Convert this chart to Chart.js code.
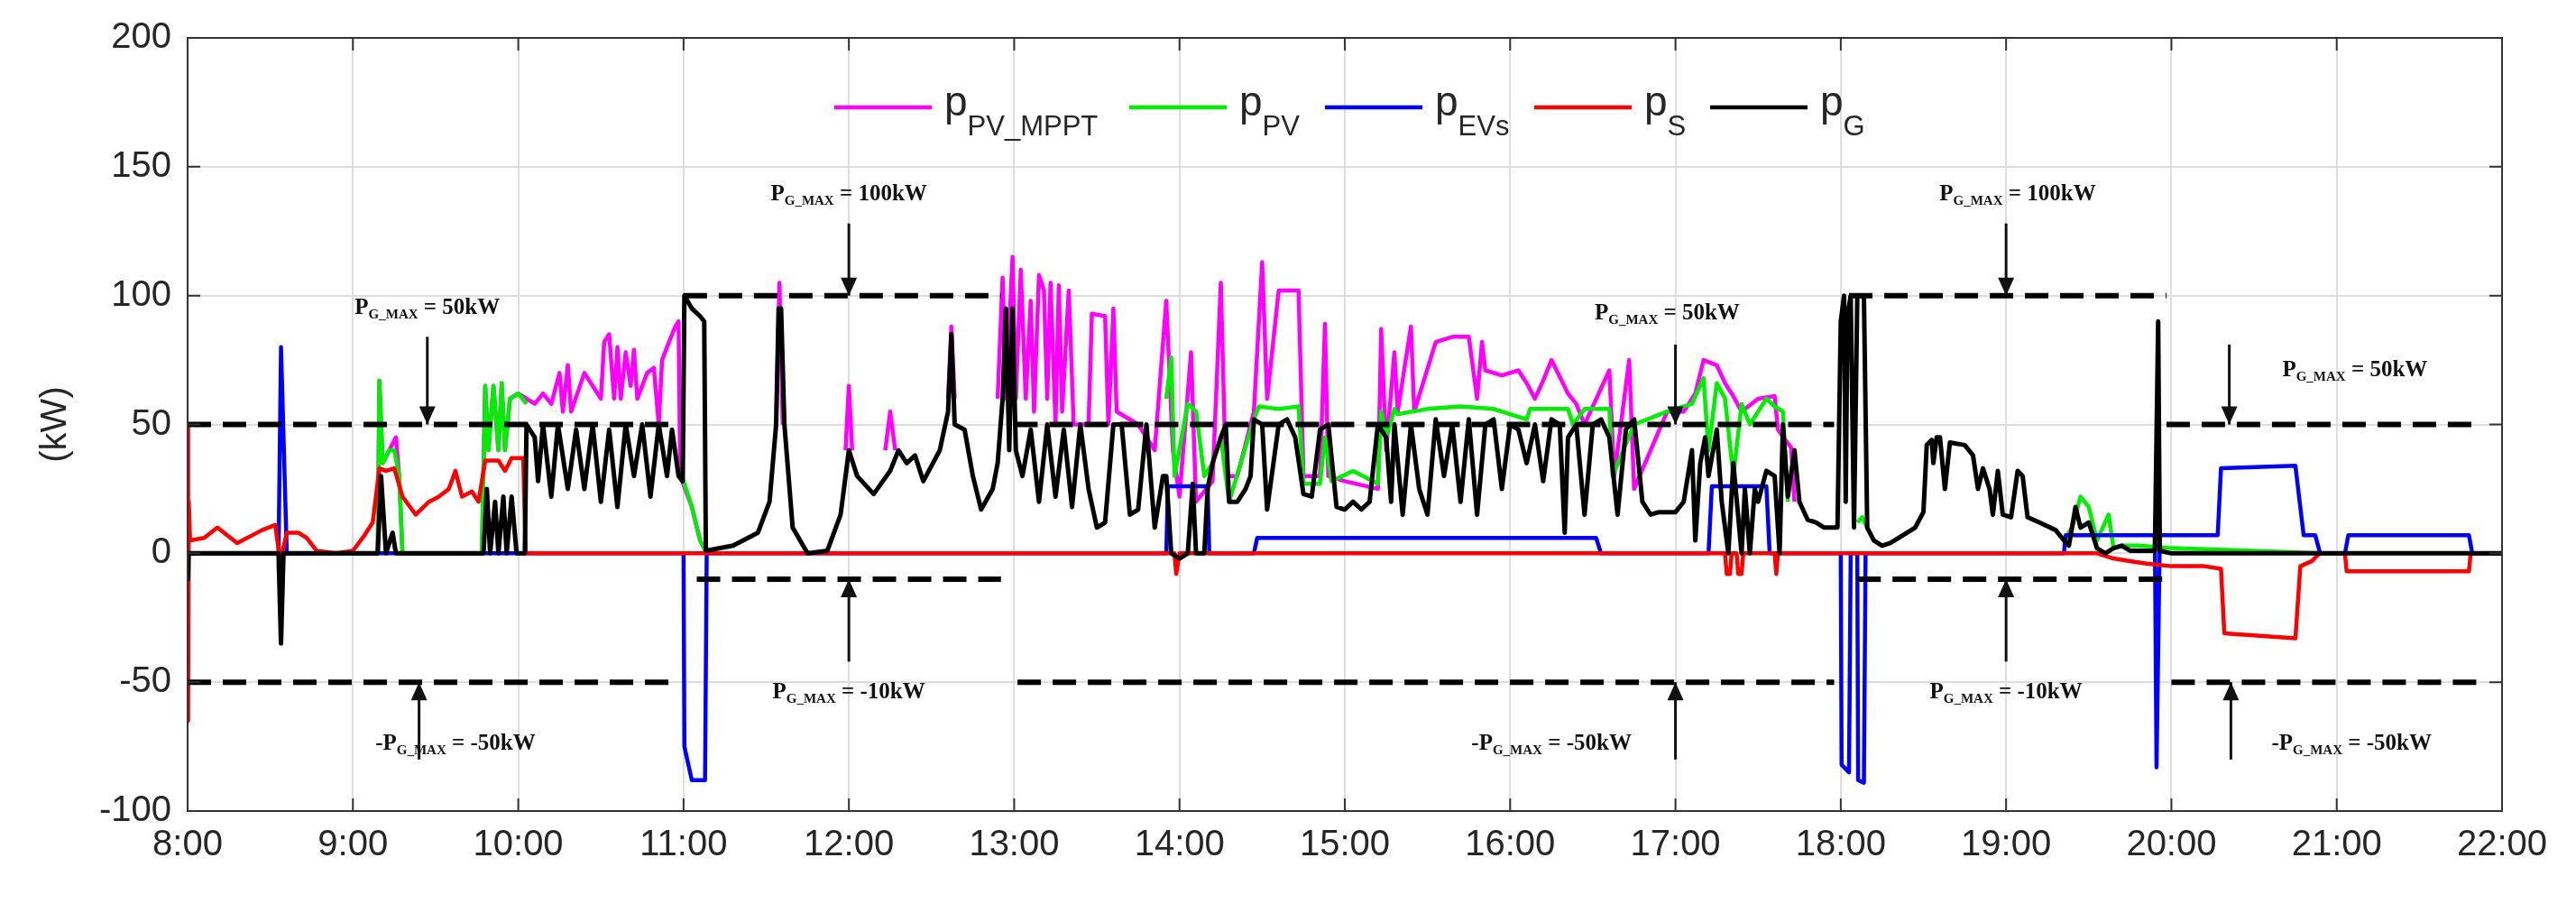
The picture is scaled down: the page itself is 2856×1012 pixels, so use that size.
<!DOCTYPE html>
<html><head><meta charset="utf-8">
<script src="https://cdn.jsdelivr.net/npm/chart.js@4.4.1/dist/chart.umd.min.js"></script>
<style>html,body{margin:0;padding:0;background:#fff}#wrap{width:2856px;height:1012px}</style>
</head><body><div id="wrap"><canvas id="c" width="2856" height="1012"></canvas></div>
<script>
// ---- data (time in hours, power in kW) ----
const xTicks = [8,9,10,11,12,13,14,15,16,17,18,19,20,21,22];
const yTicks = [-100,-50,0,50,100,150,200];

const pPV_MPPT = [[8,0],[9.15,0],[9.16,67],[9.18,35],[9.22,40],[9.26,45],[9.28,30],[9.3,0],[9.78,0],[9.8,65],[9.82,40],[9.85,65],[9.88,40],[9.9,66],[9.92,40],[9.95,60],[10.0,62],[10.05,60],[10.1,58],[10.15,62],[10.2,58],[10.25,70],[10.27,55],[10.3,73],[10.32,55],[10.4,70],[10.5,60],[10.52,82],[10.55,85],[10.58,60],[10.6,80],[10.62,60],[10.65,78],[10.68,65],[10.7,79],[10.72,60],[10.78,70],[10.82,72],[10.85,50],[10.87,75],[10.9,80],[10.95,88],[10.97,90],[10.98,30],[11.05,18],[11.1,5],[11.14,0],[11.15,null],
[11.56,50],[11.58,105],[11.6,50],[11.61,null],[11.98,40],[12.0,65],[12.02,40],[12.03,null],[12.22,40],[12.25,55],[12.28,40],[12.29,null],[12.6,60],[12.62,88],[12.64,60],[12.65,null],
[12.9,60],[12.93,107],[12.95,60],[12.99,115],[13.01,60],[13.04,110],[13.07,60],[13.1,98],[13.12,55],[13.15,108],[13.18,102],[13.2,60],[13.22,105],[13.25,50],[13.27,104],[13.29,55],[13.33,102],[13.36,50],[13.45,50],[13.47,93],[13.55,92],[13.57,50],[13.6,95],[13.62,55],[13.75,50],[13.85,40],[13.92,98],[13.96,40],[14.0,22],[14.07,78],[14.1,20],[14.2,28],[14.25,105],[14.28,30],[14.35,30],[14.45,55],[14.5,113],[14.53,60],[14.6,102],[14.72,102],[14.75,30],[14.85,30],[14.88,89],[14.9,30],[15.0,28],[15.2,25],[15.22,87],[15.25,40],[15.3,78],[15.32,55],[15.4,88],[15.42,55],[15.55,82],[15.65,84],[15.75,84],[15.8,60],[15.83,82],[15.85,71],[15.95,69],[16.05,71],[16.1,66],[16.15,60],[16.2,67],[16.25,75],[16.35,62],[16.4,58],[16.45,50],[16.6,71],[16.63,30],[16.72,75],[16.75,25],[16.95,55],[17.05,55],[17.12,62],[17.17,75],[17.25,73],[17.3,66],[17.35,61],[17.4,55],[17.5,60],[17.6,61],[17.62,48],[17.7,41],[17.72,20],[17.73,null]];

const pPV = [[8,0],[9.15,0],[9.16,67],[9.18,35],[9.22,40],[9.25,40],[9.28,30],[9.3,0],[9.78,0],[9.8,65],[9.82,40],[9.85,65],[9.88,40],[9.9,66],[9.92,40],[9.95,60],[10.0,62],[10.05,58],[10.06,null],
[10.99,30],[11.05,18],[11.1,5],[11.14,0],[11.15,null],
[13.92,60],[13.95,76],[13.97,30],[14.05,58],[14.1,55],[14.15,30],[14.2,35],[14.25,45],[14.3,20],[14.45,52],[14.48,57],[14.6,56],[14.72,57],[14.75,27],[14.85,27],[14.88,45],[14.92,28],[15.05,32],[15.2,27],[15.22,55],[15.25,45],[15.3,56],[15.32,54],[15.5,56],[15.7,57],[15.9,56],[16.1,52],[16.12,56],[16.35,56],[16.38,50],[16.45,56],[16.6,56],[16.62,30],[16.75,50],[16.95,55],[17.1,58],[17.17,68],[17.2,40],[17.25,66],[17.3,60],[17.35,30],[17.4,58],[17.45,50],[17.5,55],[17.55,60],[17.6,57],[17.65,55],[17.68,20],[17.69,null],
[18.1,12],[18.13,14],[18.16,10],[18.17,null],
[19.35,5],[19.4,10],[19.45,22],[19.5,18],[19.55,5],[19.62,15],[19.65,2],[19.7,3],[19.8,3],[20.0,2],[20.5,1],[20.9,0]];

const pEVs = [[8,0],[8.55,0],[8.565,80],[8.6,0],[11.0,0],[11.005,-75],[11.05,-88],[11.13,-88],[11.14,0],[13.92,0],[13.93,26],[14.17,26],[14.18,0],[14.45,0],[14.47,6],[16.52,6],[16.55,0],[17.2,0],[17.22,26],[17.55,26],[17.57,0],[18.0,0],[18.005,-82],[18.05,-85],[18.06,0],[18.1,0],[18.105,-88],[18.14,-89],[18.15,0],[19.35,0],[19.36,7],[19.9,7],[19.91,-83],[19.93,7],[20.28,7],[20.3,33],[20.75,34],[20.8,7],[20.87,7],[20.9,0],[21.05,0],[21.07,7],[21.8,7],[21.82,0],[22,0]];

const pS = [[8.0,50],[8.003,-65],[8.007,20],[8.015,5],[8.1,6],[8.18,10],[8.3,4],[8.45,9],[8.53,11],[8.56,-3],[8.6,8],[8.67,8],[8.72,6],[8.78,1],[8.9,0],[9.0,1],[9.07,7],[9.12,12],[9.16,33],[9.2,32],[9.25,33],[9.3,22],[9.38,15],[9.46,20],[9.52,22],[9.58,25],[9.62,32],[9.66,22],[9.72,24],[9.76,20],[9.8,36],[9.88,36],[9.92,32],[9.96,37],[10.03,37],[10.045,0],[13.97,0],[13.98,-8],[14.0,0],[17.3,0],[17.31,-8],[17.33,-8],[17.34,0],[17.37,0],[17.38,-8],[17.4,-8],[17.41,0],[17.6,0],[17.61,-8],[17.62,0],[19.55,0],[19.65,-2],[19.75,-3],[19.85,-4],[20.0,-5],[20.2,-5],[20.3,-6],[20.32,-31],[20.75,-33],[20.78,-5],[20.85,-3],[20.88,-1],[20.9,0],[21.05,0],[21.06,-7],[21.8,-7],[21.81,0],[22,0]];

const pG = [[8.0,0],[8.003,-10],[8.006,0],[8.55,0],[8.565,-35],[8.58,0],[9.15,0],[9.17,30],[9.2,0],[9.24,8],[9.26,0],[9.79,0],[9.81,25],[9.83,0],[9.86,20],[9.88,0],[9.91,22],[9.93,0],[9.96,22],[9.99,0],[10.04,0],[10.05,50],[10.1,45],[10.12,28],[10.15,50],[10.2,22],[10.24,50],[10.3,25],[10.35,48],[10.4,25],[10.45,50],[10.5,20],[10.55,48],[10.6,18],[10.65,50],[10.7,30],[10.75,50],[10.8,22],[10.85,50],[10.9,30],[10.93,48],[10.97,30],[10.995,28],[11.005,100],[11.05,95],[11.1,92],[11.125,90],[11.135,1],[11.3,3],[11.45,8],[11.52,20],[11.56,50],[11.575,95],[11.59,95],[11.61,50],[11.66,10],[11.75,0],[11.87,1],[11.95,15],[12.0,40],[12.05,30],[12.15,23],[12.25,32],[12.3,40],[12.35,35],[12.4,38],[12.45,28],[12.55,40],[12.6,55],[12.62,85],[12.64,50],[12.7,48],[12.75,30],[12.8,17],[12.87,25],[12.9,35],[12.93,60],[12.95,95],[12.97,40],[12.99,95],[13.01,40],[13.05,30],[13.1,48],[13.15,20],[13.2,50],[13.25,22],[13.3,48],[13.35,18],[13.4,50],[13.45,25],[13.5,10],[13.55,12],[13.6,50],[13.65,50],[13.7,15],[13.75,17],[13.8,50],[13.85,10],[13.9,30],[13.92,30],[13.95,0],[14.0,-2],[14.05,0],[14.08,27],[14.1,0],[14.15,0],[14.17,25],[14.2,35],[14.25,45],[14.28,50],[14.3,20],[14.35,20],[14.4,25],[14.43,30],[14.45,52],[14.5,50],[14.53,17],[14.6,50],[14.65,52],[14.7,45],[14.75,23],[14.8,22],[14.85,48],[14.9,50],[14.95,18],[15.0,17],[15.05,20],[15.1,17],[15.15,20],[15.2,50],[15.25,45],[15.28,20],[15.3,50],[15.35,15],[15.4,50],[15.45,25],[15.5,15],[15.55,52],[15.6,30],[15.65,50],[15.7,20],[15.75,52],[15.8,15],[15.85,50],[15.9,52],[15.95,25],[16.0,50],[16.05,48],[16.1,35],[16.15,50],[16.2,28],[16.25,52],[16.3,50],[16.33,8],[16.35,45],[16.4,50],[16.45,15],[16.5,50],[16.55,52],[16.6,45],[16.65,15],[16.7,48],[16.75,52],[16.8,20],[16.85,15],[16.9,16],[17.0,16],[17.05,20],[17.1,40],[17.12,5],[17.15,35],[17.18,45],[17.2,30],[17.25,48],[17.28,20],[17.32,0],[17.35,35],[17.4,0],[17.42,25],[17.45,0],[17.48,25],[17.5,20],[17.55,32],[17.6,30],[17.63,0],[17.65,50],[17.68,22],[17.72,40],[17.75,20],[17.8,13],[17.85,12],[17.9,10],[17.98,10],[18.0,90],[18.02,100],[18.03,20],[18.04,92],[18.06,100],[18.08,10],[18.1,100],[18.14,100],[18.16,10],[18.2,5],[18.25,3],[18.3,4],[18.45,10],[18.5,16],[18.52,42],[18.55,44],[18.56,35],[18.58,45],[18.6,45],[18.63,25],[18.66,43],[18.75,42],[18.8,38],[18.83,25],[18.86,33],[18.9,25],[18.92,15],[18.95,32],[18.98,15],[19.03,14],[19.07,32],[19.1,30],[19.13,14],[19.2,12],[19.3,9],[19.35,5],[19.38,3],[19.42,18],[19.45,10],[19.5,12],[19.55,2],[19.6,0],[19.65,2],[19.7,3],[19.75,1],[19.9,1],[19.92,90],[19.93,1],[20.0,0],[22,0]];

// grid power limits: [start, end, value]
const limitSegments = [[8.0,10.95,50],[8.0,10.95,-50],[11.0,12.92,100],[11.08,12.92,-10],[13.0,17.96,50],[13.02,17.96,-50],[18.05,19.97,100],[18.1,19.97,-10],[19.97,21.88,50],[20.0,21.88,-50]];

// annotation: [label t, label v, prefix, tail, arrow t, arrow from v, arrow to v]
const notes = [[9.45,96,'P','= 50kW',9.45,84,50],[9.62,-73,'-P','= -50kW',9.4,-80,-50],[12.0,140,'P','= 100kW',12.0,128,100],[12.0,-53,'P','= -10kW',12.0,-42,-10],[16.95,94,'P','= 50kW',17.0,81,50],[16.25,-73,'-P','= -50kW',17.0,-80,-50],[19.07,140,'P','= 100kW',19.0,128,100],[19.0,-53,'P','= -10kW',19.0,-42,-10],[21.11,72,'P','= 50kW',20.35,81,50],[21.09,-73,'-P','= -50kW',20.36,-80,-50]];

const legendItems = [['PV_MPPT','#ff00ff'],['PV','#00ee00'],['EVs','#0000ff'],['S','#ff0000'],['G','#000000']];

const toXY = a => a.map(p => ({x:p[0], y:p[1]}));
const series = [
  {d:pG, c:'#000000', w:5, o:1},
  {d:pS, c:'#ff0000', w:4.5, o:2},
  {d:pEVs, c:'#0000ff', w:4.5, o:3},
  {d:pPV, c:'#00ee00', w:4.5, o:4},
  {d:pPV_MPPT, c:'#ff00ff', w:4.5, o:5}
];
const datasets = series.map(s => ({data:toXY(s.d), borderColor:s.c, borderWidth:s.w, order:s.o, pointRadius:0, tension:0, spanGaps:false, borderJoinStyle:'round'}));
limitSegments.forEach(s => datasets.push({data:[{x:s[0],y:s[2]},{x:s[1],y:s[2]}], borderColor:'#000', borderWidth:6, borderDash:[26,13], order:0, pointRadius:0}));

const deco = {
  id:'deco',
  afterDraw(chart){
    const ctx = chart.ctx, xs = chart.scales.x, ys = chart.scales.y, a = chart.chartArea;
    ctx.save();
    ctx.strokeStyle = '#333'; ctx.lineWidth = 2;
    xTicks.forEach(t => { const X = xs.getPixelForValue(t); ctx.beginPath(); ctx.moveTo(X,a.bottom); ctx.lineTo(X,a.bottom-14); ctx.moveTo(X,a.top); ctx.lineTo(X,a.top+14); ctx.stroke(); });
    yTicks.forEach(v => { const Y = ys.getPixelForValue(v); ctx.beginPath(); ctx.moveTo(a.left,Y); ctx.lineTo(a.left+14,Y); ctx.moveTo(a.right,Y); ctx.lineTo(a.right-14,Y); ctx.stroke(); });
    ctx.strokeRect(a.left, a.top, a.right-a.left, a.bottom-a.top);
    ctx.fillStyle = '#262626'; ctx.font = '40px "Liberation Sans", Arial'; ctx.textAlign='center'; ctx.textBaseline='middle';
    ctx.translate(62, (a.top+a.bottom)/2); ctx.rotate(-Math.PI/2); ctx.fillText('(kW)',0,0);
    ctx.restore();
    ctx.save();
    ctx.fillStyle = '#111'; ctx.strokeStyle='#111'; ctx.textBaseline='alphabetic'; ctx.textAlign='left';
    notes.forEach(n => {
      const fm = 'bold 25px "Liberation Serif", "Times New Roman"', fs = 'bold 15px "Liberation Serif", "Times New Roman"';
      ctx.font = fm; const w1 = ctx.measureText(n[2]).width; const w3 = ctx.measureText(' '+n[3]).width;
      ctx.font = fs; const w2 = ctx.measureText('G_MAX').width;
      const tot = w1+w2+w3; let X = xs.getPixelForValue(n[0]) - tot/2; const Y = ys.getPixelForValue(n[1]) + 9;
      ctx.font = fm; ctx.fillText(n[2], X, Y); X += w1;
      ctx.font = fs; ctx.fillText('G_MAX', X, Y+5); X += w2;
      ctx.font = fm; ctx.fillText(' '+n[3], X, Y);
      const AX = xs.getPixelForValue(n[4]), A1 = ys.getPixelForValue(n[5]), A2 = ys.getPixelForValue(n[6]);
      ctx.lineWidth = 3; ctx.beginPath(); ctx.moveTo(AX,A1); ctx.lineTo(AX,A2); ctx.stroke();
      const dir = A2 > A1 ? 1 : -1;
      ctx.beginPath(); ctx.moveTo(AX, A2); ctx.lineTo(AX-9, A2-dir*20); ctx.lineTo(AX+9, A2-dir*20); ctx.closePath(); ctx.fill();
    });
    ctx.restore();
    ctx.save();
    const lx = [925, 1252, 1469, 1701, 1896], ly = 119;
    ctx.textBaseline='alphabetic'; ctx.textAlign='left'; ctx.fillStyle='#262626';
    legendItems.forEach((it,i) => {
      ctx.strokeStyle = it[1]; ctx.lineWidth = 4.5; ctx.beginPath(); ctx.moveTo(lx[i], ly); ctx.lineTo(lx[i]+108, ly); ctx.stroke();
      let X = lx[i] + 122;
      ctx.font = '46px "Liberation Sans", Arial'; ctx.fillText('p', X, 128); X += ctx.measureText('p').width;
      ctx.font = '31px "Liberation Sans", Arial'; ctx.fillText(it[0], X, 150);
    });
    ctx.restore();
  }
};

new Chart(document.getElementById('c'), {
  type:'line',
  data:{datasets},
  options:{
    responsive:false, animation:false, events:[],
    layout:{padding:{top:38, right:82, left:0, bottom:0}},
    plugins:{legend:{display:false}, tooltip:{enabled:false}},
    scales:{
      x:{type:'linear', min:8, max:22, afterBuildTicks:s=>{s.ticks = xTicks.map(v=>({value:v}));},
         ticks:{callback:v=>v+':00', font:{size:40, family:'"Liberation Sans", Arial'}, color:'#262626', padding:14, maxRotation:0, autoSkip:false},
         grid:{color:'#dddddd', lineWidth:2, drawTicks:false}, border:{display:false},
         afterFit:s=>{s.height = 113;}},
      y:{type:'linear', min:-100, max:200, afterBuildTicks:s=>{s.ticks = yTicks.map(v=>({value:v}));},
         ticks:{font:{size:40, family:'"Liberation Sans", Arial'}, color:'#262626', padding:18},
         grid:{color:'#dddddd', lineWidth:2, drawTicks:false}, border:{display:false},
         afterFit:s=>{s.width = 208;}}
    }
  },
  plugins:[deco]
});
</script></body></html>
